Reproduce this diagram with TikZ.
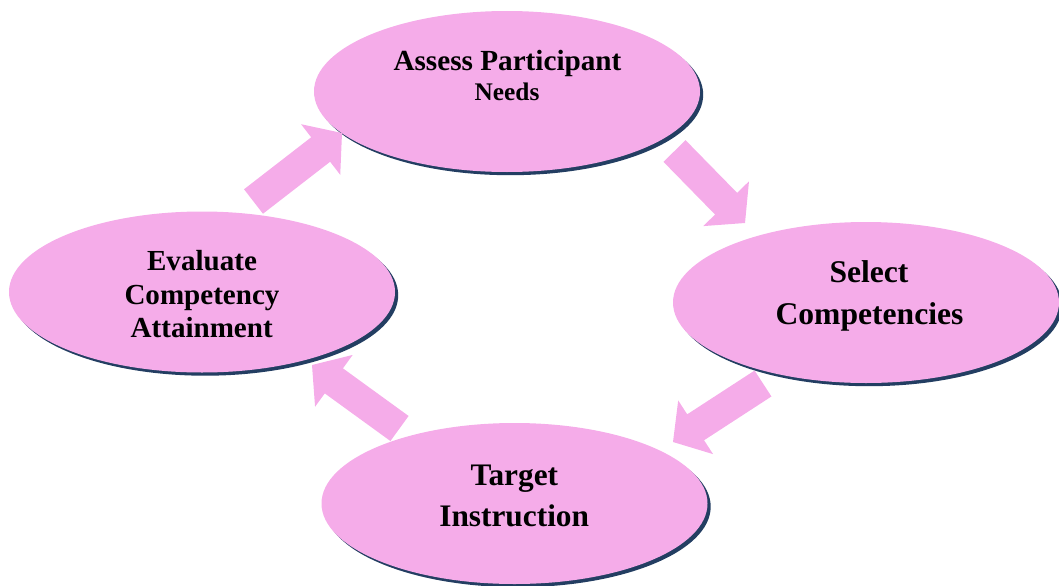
\documentclass[tikz,border=0pt]{standalone}
\usepackage{fontspec}
\setmainfont{Liberation Serif}
\usetikzlibrary{shapes.geometric,calc,shadows}
\definecolor{bubblepink}{HTML}{F5ACE9}
\definecolor{shade}{HTML}{233E62}
\tikzset{
  bubblenode/.style={ellipse, fill=bubblepink, inner sep=0pt, minimum width=289.5pt, minimum height=120.75pt,
    drop shadow={shadow xshift=2.4pt, shadow yshift=-2.4pt, fill=shade, opacity=1}},
  lbl/.style={anchor=base, inner sep=0pt, text=black, font=\bfseries},
  blockfill/.style={fill=bubblepink},
}
\newcommand\blockarrow[2]{%
  \path ($(#2)!20.25pt!(#1)$) coordinate (hb);
  \path[blockfill] ($(#1)!11.6pt!90:(#2)$) -- ($(hb)!11.6pt!90:(#2)$) -- ($(hb)!24pt!90:(#2)$)
    -- (#2) -- ($(hb)!24pt!-90:(#2)$) -- ($(hb)!11.6pt!-90:(#2)$) -- ($(#1)!11.6pt!-90:(#2)$) -- cycle;}
\begin{document}
\begin{tikzpicture}[x=0.75pt,y=-0.75pt]
\useasboundingbox (0,0) rectangle (1059,585);
\node[bubblenode] (top) at (507,91.5) {};
\node[bubblenode] (right) at (866,302.5) {};
\node[bubblenode] (bottom) at (514.5,503.5) {};
\node[bubblenode] (left) at (202,292) {};

\coordinate (a1s) at (253.5,201.5); \coordinate (a1e) at (342,133);
\coordinate (a2s) at (674.5,151);   \coordinate (a2e) at (745,223);
\coordinate (a3s) at (763,383.5);   \coordinate (a3e) at (673,442);
\coordinate (a4s) at (399.5,428.5); \coordinate (a4e) at (312,365);
\blockarrow{a1s}{a1e}
\blockarrow{a2s}{a2e}
\blockarrow{a3s}{a3e}
\blockarrow{a4s}{a4e}

\node[lbl, font=\bfseries\fontsize{21.9pt}{24pt}\selectfont] (t1) at (507.5,70) {Assess Participant};
\node[lbl, font=\bfseries\fontsize{19pt}{22pt}\selectfont] (t2) at (507,100.7) {Needs};
\node[lbl, font=\bfseries\fontsize{23.7pt}{26pt}\selectfont] (r1) at (869,282.3) {Select};
\node[lbl, font=\bfseries\fontsize{23.7pt}{26pt}\selectfont] (r2) at (869.5,324.3) {Competencies};
\node[lbl, font=\bfseries\fontsize{23.5pt}{26pt}\selectfont] (b1) at (514.3,485) {Target};
\node[lbl, font=\bfseries\fontsize{23.5pt}{26pt}\selectfont] (b2) at (514.2,526.7) {Instruction};
\node[lbl, font=\bfseries\fontsize{21.8pt}{24pt}\selectfont] (l1) at (202,270.7) {Evaluate};
\node[lbl, font=\bfseries\fontsize{21.8pt}{24pt}\selectfont] (l2) at (202,304) {Competency};
\node[lbl, font=\bfseries\fontsize{21.8pt}{24pt}\selectfont] (l3) at (201.7,337.7) {Attainment};
\end{tikzpicture}
\end{document}
